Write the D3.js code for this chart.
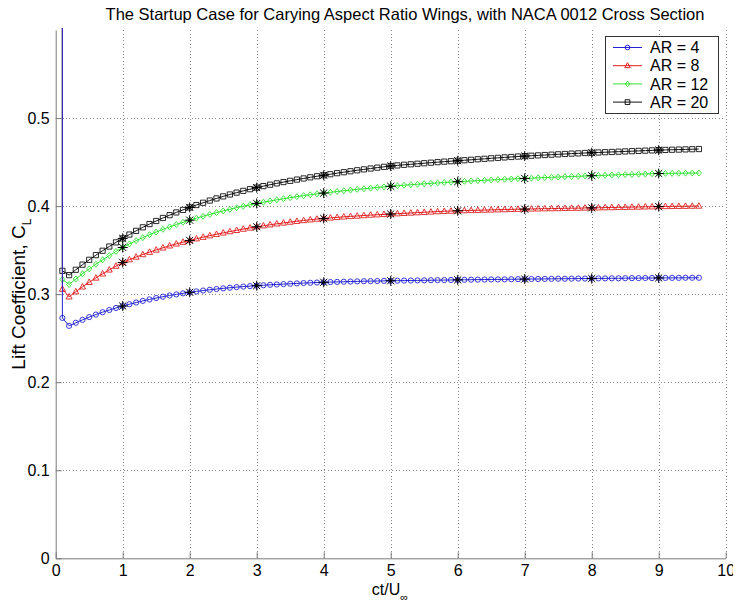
<!DOCTYPE html>
<html>
<head>
<meta charset="utf-8">
<script src="https://cdn.jsdelivr.net/npm/d3@7"></script>
<style>
  html, body { margin: 0; padding: 0; background: #fff; }
  svg { display: block; font-family: "Liberation Sans", Arial, sans-serif; }
</style>
</head>
<body>
<svg id="chart" width="733" height="606"></svg>
<script>
// Non-dimensional time ct/U∞ (first sample is the impulsive-start value)
const time = [
  0.1, 0.1, 0.2, 0.3, 0.4, 0.5, 0.6, 0.7, 0.8, 0.9, 1.0,
  1.1, 1.2, 1.3, 1.4, 1.5, 1.6, 1.7, 1.8, 1.9, 2.0,
  2.1, 2.2, 2.3, 2.4, 2.5, 2.6, 2.7, 2.8, 2.9, 3.0,
  3.1, 3.2, 3.3, 3.4, 3.5, 3.6, 3.7, 3.8, 3.9, 4.0,
  4.1, 4.2, 4.3, 4.4, 4.5, 4.6, 4.7, 4.8, 4.9, 5.0,
  5.1, 5.2, 5.3, 5.4, 5.5, 5.6, 5.7, 5.8, 5.9, 6.0,
  6.1, 6.2, 6.3, 6.4, 6.5, 6.6, 6.7, 6.8, 6.9, 7.0,
  7.1, 7.2, 7.3, 7.4, 7.5, 7.6, 7.7, 7.8, 7.9, 8.0,
  8.1, 8.2, 8.3, 8.4, 8.5, 8.6, 8.7, 8.8, 8.9, 9.0,
  9.1, 9.2, 9.3, 9.4, 9.5, 9.6
];

// Lift coefficient histories, one per aspect ratio
const liftAR4 = [
  0.95, 0.2730, 0.2640, 0.2675, 0.2708, 0.2739, 0.2768, 0.2795, 0.2820, 0.2843, 0.2865,
  0.2886, 0.2905, 0.2923, 0.2940, 0.2956, 0.2971, 0.2985, 0.2997, 0.3009, 0.3021,
  0.3031, 0.3041, 0.3050, 0.3058, 0.3066, 0.3073, 0.3080, 0.3086, 0.3091, 0.3096,
  0.3101, 0.3106, 0.3110, 0.3114, 0.3118, 0.3122, 0.3126, 0.3129, 0.3132, 0.3135,
  0.3137, 0.3139, 0.3141, 0.3143, 0.3145, 0.3147, 0.3148, 0.3149, 0.3151, 0.3152,
  0.3153, 0.3154, 0.3155, 0.3156, 0.3157, 0.3158, 0.3159, 0.3160, 0.3161, 0.3162,
  0.3163, 0.3164, 0.3165, 0.3166, 0.3167, 0.3167, 0.3168, 0.3169, 0.3170, 0.3171,
  0.3172, 0.3172, 0.3173, 0.3174, 0.3175, 0.3175, 0.3176, 0.3177, 0.3177, 0.3178,
  0.3179, 0.3179, 0.3180, 0.3180, 0.3181, 0.3182, 0.3182, 0.3183, 0.3183, 0.3184,
  0.3184, 0.3185, 0.3185, 0.3186, 0.3186, 0.3186
];
const liftAR8 = [
  0.90, 0.3057, 0.2970, 0.3028, 0.3083, 0.3135, 0.3184, 0.3231, 0.3276, 0.3319, 0.3360,
  0.3392, 0.3422, 0.3450, 0.3477, 0.3502, 0.3526, 0.3549, 0.3571, 0.3591, 0.3610,
  0.3629, 0.3647, 0.3664, 0.3680, 0.3696, 0.3711, 0.3725, 0.3739, 0.3752, 0.3765,
  0.3777, 0.3788, 0.3799, 0.3809, 0.3819, 0.3828, 0.3837, 0.3845, 0.3853, 0.3860,
  0.3866, 0.3872, 0.3878, 0.3883, 0.3888, 0.3893, 0.3898, 0.3902, 0.3906, 0.3910,
  0.3914, 0.3918, 0.3922, 0.3926, 0.3930, 0.3934, 0.3938, 0.3941, 0.3944, 0.3947,
  0.3949, 0.3951, 0.3953, 0.3955, 0.3957, 0.3959, 0.3961, 0.3963, 0.3965, 0.3966,
  0.3968, 0.3969, 0.3971, 0.3972, 0.3973, 0.3975, 0.3976, 0.3977, 0.3979, 0.3980,
  0.3981, 0.3983, 0.3984, 0.3986, 0.3987, 0.3989, 0.3990, 0.3992, 0.3993, 0.3995,
  0.3996, 0.3997, 0.3998, 0.3999, 0.4000, 0.4001
];
const liftAR12 = [
  0.85, 0.3167, 0.3110, 0.3172, 0.3231, 0.3287, 0.3340, 0.3390, 0.3438, 0.3485, 0.3530,
  0.3570, 0.3607, 0.3642, 0.3675, 0.3706, 0.3736, 0.3764, 0.3791, 0.3816, 0.3840,
  0.3863, 0.3885, 0.3906, 0.3926, 0.3945, 0.3964, 0.3982, 0.3999, 0.4015, 0.4030,
  0.4044, 0.4058, 0.4071, 0.4084, 0.4096, 0.4108, 0.4119, 0.4129, 0.4139, 0.4148,
  0.4157, 0.4166, 0.4174, 0.4182, 0.4190, 0.4197, 0.4204, 0.4211, 0.4218, 0.4225,
  0.4231, 0.4237, 0.4243, 0.4248, 0.4253, 0.4258, 0.4263, 0.4268, 0.4273, 0.4277,
  0.4281, 0.4285, 0.4289, 0.4293, 0.4297, 0.4301, 0.4305, 0.4308, 0.4311, 0.4314,
  0.4317, 0.4321, 0.4324, 0.4327, 0.4330, 0.4333, 0.4336, 0.4339, 0.4342, 0.4345,
  0.4348, 0.4350, 0.4353, 0.4355, 0.4358, 0.4360, 0.4363, 0.4365, 0.4368, 0.4370,
  0.4371, 0.4372, 0.4373, 0.4374, 0.4375, 0.4376
];
const liftAR20 = [
  0.80, 0.3265, 0.3216, 0.3277, 0.3335, 0.3390, 0.3443, 0.3493, 0.3541, 0.3588, 0.3633,
  0.3677, 0.3719, 0.3759, 0.3796, 0.3831, 0.3865, 0.3897, 0.3928, 0.3957, 0.3985,
  0.4012, 0.4038, 0.4063, 0.4087, 0.4110, 0.4132, 0.4153, 0.4173, 0.4192, 0.4210,
  0.4227, 0.4243, 0.4258, 0.4273, 0.4287, 0.4301, 0.4314, 0.4327, 0.4339, 0.4350,
  0.4362, 0.4374, 0.4385, 0.4396, 0.4407, 0.4417, 0.4427, 0.4437, 0.4446, 0.4455,
  0.4462, 0.4469, 0.4475, 0.4481, 0.4487, 0.4493, 0.4499, 0.4505, 0.4510, 0.4515,
  0.4521, 0.4526, 0.4532, 0.4537, 0.4543, 0.4548, 0.4553, 0.4558, 0.4563, 0.4568,
  0.4572, 0.4576, 0.4580, 0.4584, 0.4588, 0.4592, 0.4596, 0.4599, 0.4603, 0.4606,
  0.4609, 0.4612, 0.4615, 0.4618, 0.4621, 0.4624, 0.4627, 0.4630, 0.4633, 0.4636,
  0.4638, 0.4640, 0.4642, 0.4644, 0.4646, 0.4648
];

// Reference samples at whole time units (drawn as black asterisks)
const starTime = [1, 2, 3, 4, 5, 6, 7, 8, 9];
const starAR4  = [0.2865, 0.3021, 0.3096, 0.3135, 0.3152, 0.3162, 0.3171, 0.3178, 0.3184];
const starAR8  = [0.3360, 0.3610, 0.3765, 0.3860, 0.3910, 0.3947, 0.3966, 0.3980, 0.3995];
const starAR12 = [0.3530, 0.3840, 0.4030, 0.4148, 0.4225, 0.4277, 0.4314, 0.4345, 0.4370];
const starAR20 = [0.3633, 0.3985, 0.4210, 0.4350, 0.4455, 0.4515, 0.4568, 0.4606, 0.4636];

const seriesNames = ["AR = 4", "AR = 8", "AR = 12", "AR = 20"];
const xTicks = [0, 1, 2, 3, 4, 5, 6, 7, 8, 9, 10];
const yTicks = [0, 0.1, 0.2, 0.3, 0.4, 0.5];

const series = [
  { name: seriesNames[0], values: liftAR4,  stars: starAR4,  color: "#2323d2", marker: "circle" },
  { name: seriesNames[1], values: liftAR8,  stars: starAR8,  color: "#e01e1e", marker: "triangle" },
  { name: seriesNames[2], values: liftAR12, stars: starAR12, color: "#33e033", marker: "diamond" },
  { name: seriesNames[3], values: liftAR20, stars: starAR20, color: "#111111", marker: "square" }
];

const svg = d3.select("#chart");
const plotL = 55.7, plotR = 725.7, plotT = 30, plotB = 558.3;

const x = d3.scaleLinear().domain([0, 10]).range([plotL, plotR]);
const y = d3.scaleLinear().domain([0, 0.6]).range([plotB, plotT]);

svg.append("defs").append("clipPath").attr("id", "plotClip")
  .append("rect").attr("x", plotL).attr("y", plotT - 2)
  .attr("width", plotR - plotL + 1).attr("height", plotB - plotT + 2);

// Dotted grid
const grid = svg.append("g").attr("stroke", "#8a8a8a").attr("stroke-width", 1)
  .attr("stroke-dasharray", "1,2.4").attr("shape-rendering", "crispEdges");
grid.selectAll("line.gx").data(xTicks.filter(d => d > 0)).join("line")
  .attr("x1", d => Math.round(x(d)) + 0.5).attr("x2", d => Math.round(x(d)) + 0.5)
  .attr("y1", plotB).attr("y2", plotT);
grid.selectAll("line.gy").data(yTicks.filter(d => d > 0)).join("line")
  .attr("y1", d => Math.round(y(d)) + 0.5).attr("y2", d => Math.round(y(d)) + 0.5)
  .attr("x1", plotL).attr("x2", plotR);

// Marker shapes
function markerPath(kind, s) {
  if (kind === "circle") return d3.symbol(d3.symbolCircle, s * s * 0.785)();
  if (kind === "triangle") return `M0,${-s * 0.6}L${s * 0.55},${s * 0.4}L${-s * 0.55},${s * 0.4}Z`;
  if (kind === "diamond") return `M0,${-s * 0.55}L${s * 0.45},0L0,${s * 0.55}L${-s * 0.45},0Z`;
  return `M${-s / 2},${-s / 2}h${s}v${s}h${-s}Z`;
}
function asteriskPath(r) {
  const d = r * 0.7071;
  return `M${-r},0H${r}M0,${-r}V${r}M${-d},${-d}L${d},${d}M${-d},${d}L${d},${-d}`;
}
const markerSize = { circle: 5.2, triangle: 5.5, diamond: 5.5, square: 5.2 };

const plot = svg.append("g").attr("clip-path", "url(#plotClip)");
const line = d3.line().x((d, i) => x(time[i])).y(d => y(d));

// Draw the largest aspect ratio first so AR = 4 sits on top
series.slice().reverse().forEach(s => {
  const g = plot.append("g");
  g.append("path").datum(s.values).attr("d", line)
    .attr("fill", "none").attr("stroke", s.color).attr("stroke-width", 1);
  g.selectAll("path.m").data(s.values).join("path")
    .attr("transform", (d, i) => `translate(${x(time[i])},${y(d)})`)
    .attr("d", markerPath(s.marker, markerSize[s.marker]))
    .attr("fill", "none").attr("stroke", s.color).attr("stroke-width", 0.9);
});

// Asterisks at whole time units
series.forEach(s => {
  const g = plot.append("g");
  g.selectAll("path").data(s.stars).join("path")
    .attr("transform", (d, i) => `translate(${x(starTime[i])},${y(d)})`)
    .attr("d", asteriskPath(5))
    .attr("fill", "none").attr("stroke", "#000").attr("stroke-width", 1);
  g.selectAll("circle").data(s.stars).join("circle")
    .attr("cx", (d, i) => x(starTime[i])).attr("cy", d => y(d)).attr("r", 1.6)
    .attr("fill", "#000");
});

// Axes (box off: only left and bottom)
const xAxis = d3.axisBottom(x).tickValues(xTicks).tickSize(-6).tickSizeOuter(0)
  .tickPadding(6).tickFormat(d3.format("d"));
const yAxis = d3.axisLeft(y).tickValues(yTicks).tickSize(-6).tickSizeOuter(0)
  .tickPadding(6).tickFormat(d => d === 0 ? "0" : d3.format(".1f")(d));

const gx = svg.append("g").attr("transform", `translate(0,${plotB})`).call(xAxis);
const gy = svg.append("g").attr("transform", `translate(${plotL},0)`).call(yAxis);
[gx, gy].forEach(g => {
  g.select(".domain").attr("stroke", "#7a7a7a");
  g.selectAll(".tick line").attr("stroke", "#7a7a7a");
  g.selectAll(".tick text").attr("fill", "#000").attr("font-size", 16)
    .attr("font-family", "Liberation Sans, Arial, sans-serif");
});

// Title and axis labels
svg.append("text").attr("x", 405).attr("y", 20).attr("text-anchor", "middle")
  .attr("font-size", 16.5).attr("fill", "#000")
  .text("The Startup Case for Carying Aspect Ratio Wings, with NACA 0012 Cross Section");

const xl = svg.append("text").attr("x", 390).attr("y", 595).attr("text-anchor", "middle")
  .attr("font-size", 16).attr("fill", "#000");
xl.append("tspan").text("ct/U");
xl.append("tspan").attr("font-size", 11).attr("dy", 6).text("∞");

const yl = svg.append("text").attr("transform", `translate(25,${(plotT + plotB) / 2}) rotate(-90)`)
  .attr("text-anchor", "middle").attr("font-size", 19).attr("fill", "#000");
yl.append("tspan").text("Lift Coefficient, C");
yl.append("tspan").attr("font-size", 12).attr("dy", 6).text("L");

// Legend
const lg = svg.append("g");
lg.append("rect").attr("x", 605.5).attr("y", 36.5).attr("width", 113).attr("height", 77)
  .attr("fill", "#fff").attr("stroke", "#333").attr("stroke-width", 1);
series.forEach((s, i) => {
  const cy = 47.5 + i * 18.2;
  lg.append("line").attr("x1", 613).attr("x2", 642).attr("y1", cy).attr("y2", cy)
    .attr("stroke", s.color).attr("stroke-width", 1);
  lg.append("path").attr("transform", `translate(627.5,${cy})`)
    .attr("d", markerPath(s.marker, markerSize[s.marker] - 0.5))
    .attr("fill", "none").attr("stroke", s.color);
  lg.append("text").attr("x", 650).attr("y", cy).attr("dy", "0.36em")
    .attr("font-size", 16).attr("fill", "#000").text(s.name);
});
</script>
</body>
</html>
